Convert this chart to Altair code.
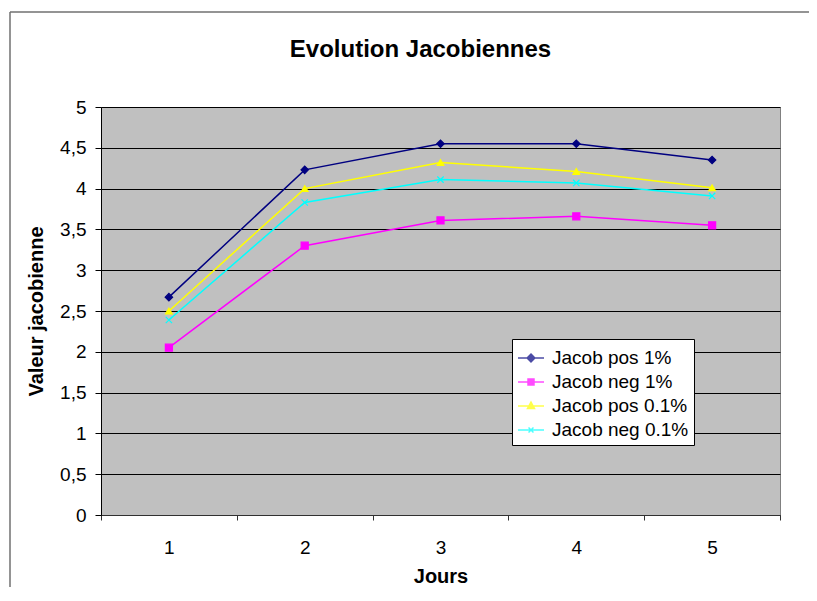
import altair as alt
import pandas as pd

# ---- data ----
days = [1, 2, 3, 4, 5]
series_names = ["Jacob pos 1%", "Jacob neg 1%", "Jacob pos 0.1%", "Jacob neg 0.1%"]
jacob_pos_1 = [2.67, 4.23, 4.55, 4.55, 4.35]
jacob_neg_1 = [2.05, 3.30, 3.61, 3.66, 3.55]
jacob_pos_01 = [2.50, 4.00, 4.32, 4.21, 4.01]
jacob_neg_01 = [2.39, 3.83, 4.11, 4.07, 3.91]
y_ticks = [0, 0.5, 1, 1.5, 2, 2.5, 3, 3.5, 4, 4.5, 5]

series_values = [jacob_pos_1, jacob_neg_1, jacob_pos_01, jacob_neg_01]
rows = []
for name, vals in zip(series_names, series_values):
    for d, v in zip(days, vals):
        rows.append({"Jours": d, "Valeur": v, "Serie": name})
df = pd.DataFrame(rows)

colors = ["#000080", "#FF00FF", "#FFFF00", "#00FFFF"]
plot_shapes = ["diamond", "square", "triangle-up", "M-1,-1L1,1M-1,1L1,-1"]
plot_sizes = [55, 40, 50, 30]
legend_shapes = [
    "M-1,0H1M0,-0.3L0.3,0L0,0.3L-0.3,0Z",
    "M-1,0H1M-0.23,-0.23H0.23V0.23H-0.23Z",
    "M-1,0H1M0,-0.3L0.27,0.2L-0.27,0.2Z",
    "M-1,0H1M-0.19,-0.19L0.19,0.19M-0.19,0.19L0.19,-0.19",
]

FONT = "Liberation Sans"

x_enc = alt.X(
    "Jours:O",
    scale=alt.Scale(type="band", paddingInner=0, paddingOuter=0),
    bandPosition=0.5,
    axis=alt.Axis(
        title="Jours", tickBand="extent", labelAngle=0, grid=False,
        domainColor="#303030", tickColor="#303030", tickSize=5,
        labelFontSize=19, labelPadding=18, labelFont=FONT, labelColor="black",
        titleFontSize=20, titleFont=FONT, titleFontWeight="bold", titlePadding=9,
        titleColor="black",
    ),
)
y_enc = alt.Y(
    "Valeur:Q",
    scale=alt.Scale(domain=[0, 5], nice=False, zero=True),
    axis=alt.Axis(
        title="Valeur jacobienne", values=y_ticks,
        labelExpr="replace(toString(datum.value), '.', ',')",
        grid=True, gridColor="black", gridWidth=1, gridOpacity=1,
        domainColor="black", tickColor="black", tickSize=6,
        labelFontSize=19, labelPadding=9, labelFont=FONT, labelColor="black",
        titleFontSize=20, titleFont=FONT, titleFontWeight="bold", titlePadding=13,
        titleColor="black",
    ),
)

color_scale = alt.Scale(domain=series_names, range=colors)

lines = alt.Chart(df).mark_line(strokeWidth=1.5).encode(
    x=x_enc, y=y_enc,
    color=alt.Color("Serie:N", scale=color_scale, legend=None, sort=series_names),
    detail="Serie:N",
)

points = alt.Chart(df).mark_point(filled=True, opacity=1, strokeWidth=1.2).encode(
    x=x_enc, y=y_enc,
    color=alt.Color("Serie:N", scale=color_scale, legend=None),
    stroke=alt.Stroke("Serie:N", scale=color_scale, legend=None),
    shape=alt.Shape("Serie:N", scale=alt.Scale(domain=series_names, range=plot_shapes), legend=None),
    size=alt.Size("Serie:N", scale=alt.Scale(domain=series_names, range=plot_sizes), legend=None),
)

leg = alt.Legend(
    title=None, orient="none", legendX=411, legendY=232,
    fillColor="white", strokeColor="black", padding=5,
    labelFontSize=19, labelFont=FONT, labelColor="black", labelOffset=7,
    symbolSize=676, symbolStrokeWidth=1.5, rowPadding=0, labelLimit=300,
)
legend_layer = alt.Chart(df).transform_filter("false").mark_point(
    filled=True, size=676, strokeWidth=1.5
).encode(
    x=x_enc, y=y_enc,
    color=alt.Color("Serie:N", scale=color_scale, legend=leg, sort=series_names),
    stroke=alt.Stroke("Serie:N", scale=color_scale, legend=leg, sort=series_names),
    shape=alt.Shape("Serie:N", scale=alt.Scale(domain=series_names, range=legend_shapes),
                    legend=leg, sort=series_names),
)

one = pd.DataFrame({"k": [0]})
frame_top = alt.Chart(one).mark_rule(stroke="#707070", strokeWidth=1.5).encode(
    x=alt.value(-91), x2=alt.value(708), y=alt.value(-95)
)
frame_left = alt.Chart(one).mark_rule(stroke="#707070", strokeWidth=1.5).encode(
    x=alt.value(-91), y=alt.value(-95), y2=alt.value(480)
)

chart = alt.layer(frame_top, frame_left, lines, points, legend_layer).resolve_scale(
    color="independent", stroke="independent", shape="independent", size="independent"
).properties(
    width=679, height=408,
    background="white",
    title=alt.TitleParams(
        "Evolution Jacobiennes", fontSize=24, font=FONT, fontWeight="bold",
        anchor="middle", frame="group", dx=-20, offset=-70, baseline="alphabetic",
        color="black",
    ),
    autosize=alt.AutoSizeParams(type="none"),
    padding={"left": 93, "top": 99, "right": 29, "bottom": 72},
).configure_view(
    fill="#C0C0C0", stroke="#808080", strokeWidth=1
)

chart.save("out.html", embed_options={"renderer": "svg", "actions": False})
